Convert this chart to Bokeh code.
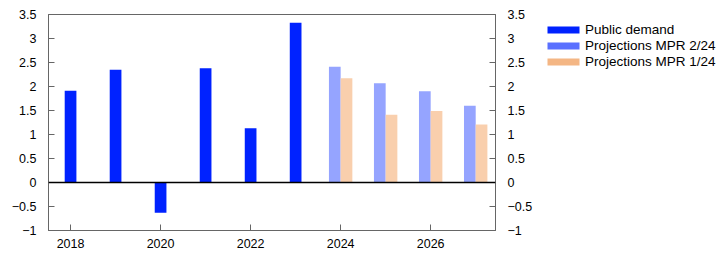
from bokeh.plotting import figure
from bokeh.layouts import row
from bokeh.models import Range1d, LinearAxis, FixedTicker, Legend, LegendItem, Span
from bokeh.embed import file_html
from bokeh.resources import INLINE

hist_years = [2018, 2019, 2020, 2021, 2022, 2023]
public_demand = [1.91, 2.35, -0.63, 2.38, 1.13, 3.33]
proj_years = [2024, 2025, 2026, 2027]
mpr_2_24 = [2.41, 2.07, 1.90, 1.60]
mpr_1_24 = [2.17, 1.41, 1.49, 1.21]
x_ticks = [2018, 2020, 2022, 2024, 2026]
y_ticks = [-1, -0.5, 0, 0.5, 1, 1.5, 2, 2.5, 3, 3.5]
y_labels = {t: (str(t).replace("-", "\u2212") if t != int(t) else str(int(t)).replace("-", "\u2212")) for t in y_ticks}
series_names = ["Public demand", "Projections MPR 2/24", "Projections MPR 1/24"]

FONT = "Liberation Sans"
AX = "#666666"

p = figure(frame_width=447, frame_height=216, output_backend="svg", toolbar_location=None,
           x_range=Range1d(2017.51, 2027.44), y_range=Range1d(-1, 3.5),
           min_border_left=48, min_border_top=14, min_border_bottom=36, min_border_right=48)
p.xgrid.visible = False
p.ygrid.visible = False
p.outline_line_color = AX
p.background_fill_color = "white"

w = 0.26
p.vbar(x=hist_years, top=public_demand, bottom=0, width=w, fill_color="#0022ff", line_color=None)
p.vbar(x=[y - w / 2 for y in proj_years], top=mpr_2_24, bottom=0, width=w, fill_color="#95a4ff", line_color=None)
p.vbar(x=[y + w / 2 for y in proj_years], top=mpr_1_24, bottom=0, width=w, fill_color="#f9cfad", line_color=None)

p.add_layout(Span(location=0, dimension="width", line_color="black", line_width=1.3))

p.xaxis[0].ticker = FixedTicker(ticks=x_ticks)
yax = p.yaxis[0]
yax.ticker = FixedTicker(ticks=y_ticks)
yax.major_label_overrides = y_labels
ryax = LinearAxis(ticker=FixedTicker(ticks=y_ticks), major_label_overrides=y_labels)
p.add_layout(ryax, "right")

for ax in (p.xaxis[0], yax, ryax):
    ax.axis_line_color = AX
    ax.major_tick_line_color = AX
    ax.major_tick_in = 6
    ax.major_tick_out = 0
    ax.minor_tick_line_color = None
    ax.major_label_text_font = FONT
    ax.major_label_text_font_size = "12.5px"
    ax.major_label_text_color = "black"
p.xaxis[0].major_label_standoff = 8
yax.major_label_standoff = 12
ryax.major_label_standoff = 12

# legend panel
lf = figure(frame_width=178, frame_height=216, output_backend="svg", toolbar_location=None,
            x_range=Range1d(0, 1), y_range=Range1d(0, 1),
            x_axis_location=None, y_axis_location=None,
            min_border_left=0, min_border_right=0, min_border_top=14, min_border_bottom=36)
lf.xgrid.visible = False
lf.ygrid.visible = False
lf.outline_line_color = None
leg_colors = ["#0022ff", "#5a70ff", "#f4b684"]
items = []
for name, c in zip(series_names, leg_colors):
    r = lf.vbar(x=[5], top=[5], bottom=4, width=0.1, fill_color=c, line_color=None)
    items.append(LegendItem(label=name, renderers=[r]))
legend = Legend(items=items, location=(0, 161), orientation="vertical")
legend.label_text_font = FONT
legend.label_text_font_size = "13.5px"
legend.label_text_color = "black"
legend.glyph_width = 40
legend.glyph_height = 9
legend.spacing = 1
legend.label_standoff = 2
legend.padding = 0
legend.margin = 0
legend.border_line_color = None
legend.background_fill_alpha = 0
legend.label_height = 9
lf.add_layout(legend, "center")

layout = row(p, lf, spacing=0)
open("out.html", "w").write(file_html(layout, INLINE))
